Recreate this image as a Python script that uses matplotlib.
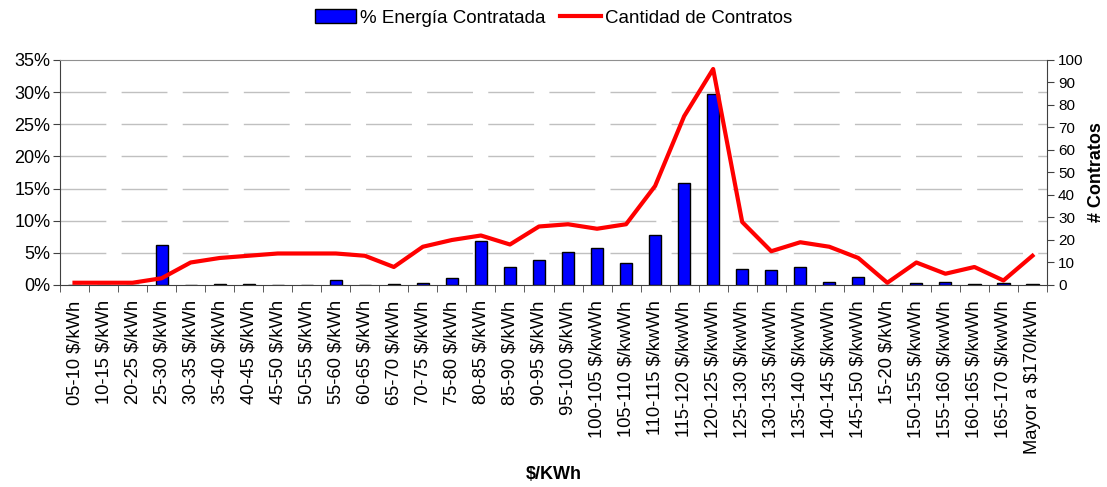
import matplotlib.pyplot as plt
import numpy as np
from matplotlib.patches import Patch
from matplotlib.lines import Line2D

plt.rcParams['font.family'] = ['Liberation Sans', 'DejaVu Sans']

# categories ($/kWh ranges) as printed on the chart
labels = [
    "05-10 $/kWh", "10-15 $/kWh", "20-25 $/kWh", "25-30 $/kWh", "30-35 $/kWh",
    "35-40 $/kWh", "40-45 $/kWh", "45-50 $/kWh", "50-55 $/kWh", "55-60 $/kWh",
    "60-65 $/kWh", "65-70 $/kWh", "70-75 $/kWh", "75-80 $/kWh", "80-85 $/kWh",
    "85-90 $/kWh", "90-95 $/kWh", "95-100 $/kWh", "100-105 $/kwWh", "105-110 $/kwWh",
    "110-115 $/kwWh", "115-120 $/kwWh", "120-125 $/kwWh", "125-130 $/kwWh",
    "130-135 $/kwWh", "135-140 $/kwWh", "140-145 $/kwWh", "145-150 $/kwWh",
    "15-20 $/kWh", "150-155 $/kwWh", "155-160 $/kwWh", "160-165 $/kwWh",
    "165-170 $/kwWh", "Mayor a $170/kWh",
]

# % energia contratada (left axis, percent)
energia = [0.0, 0.0, 0.0, 6.2, 0.05, 0.15, 0.15, 0.05, 0.05, 0.8,
           0.05, 0.15, 0.35, 1.05, 6.85, 2.85, 3.9, 5.1, 5.75, 3.45,
           7.7, 15.9, 29.7, 2.45, 2.3, 2.8, 0.4, 1.2, 0.0, 0.25,
           0.4, 0.2, 0.3, 0.1]

# cantidad de contratos (right axis)
contratos = [1, 1, 1, 3, 10, 12, 13, 14, 14, 14,
             13, 8, 17, 20, 22, 18, 26, 27, 25, 27,
             44, 75, 96, 28, 15, 19, 17, 12, 1, 10,
             5, 8, 2, 13]

x = np.arange(len(labels))

fig = plt.figure(figsize=(11.07, 4.87), dpi=100)
ax = fig.add_axes([0.0542, 0.4148, 0.8916, 0.462])

# broken-looking light grid like the original
for v in range(5, 35, 5):
    ax.axhline(v, color='#c0c0c0', lw=1, ls=(0, (33, 11)), zorder=0)

ax.bar(x, energia, width=0.42, color='#0000ff', edgecolor='black', lw=1, zorder=2)
ax.set_xlim(-0.5, len(labels) - 0.5)
ax.set_ylim(0, 35)
ax.set_yticks(range(0, 36, 5))
ax.set_yticklabels([f"{v}%" for v in range(0, 36, 5)], fontsize=13)

ax.set_xticks(x)
ax.set_xticklabels(labels, rotation=90, fontsize=13.2)
ax.set_xticks(np.arange(-0.5, len(labels), 1), minor=True)
ax.tick_params(axis='x', which='major', length=0, pad=11)
ax.tick_params(axis='x', which='minor', length=5, direction='out', color='#404040')
ax.tick_params(axis='y', length=5, direction='out', color='#404040', pad=2)
fig.text(0.5, 0.025, "$/KWh", fontsize=13, fontweight='bold', ha='center', va='center')

ax.spines['top'].set_color('#909090')
ax.spines['left'].set_color('#404040')
ax.spines['bottom'].set_color('#404040')
ax.spines['right'].set_visible(False)

ax2 = ax.twinx()
ax2.plot(x, contratos, color='#ff0000', lw=3, zorder=3)
ax2.set_ylim(0, 100)
ax2.set_yticks(range(0, 101, 10))
ax2.tick_params(axis='y', labelsize=11, length=5, direction='out', color='#404040', pad=3)
ax2.set_ylabel("# Contratos", fontsize=13, fontweight='bold', labelpad=3)
ax2.spines['right'].set_color('#404040')
ax2.spines['top'].set_visible(False)
ax2.spines['left'].set_visible(False)
ax2.spines['bottom'].set_visible(False)

handles = [Patch(facecolor='#0000ff', edgecolor='black', label='% Energía Contratada'),
           Line2D([], [], color='#ff0000', lw=3, label='Cantidad de Contratos')]
fig.legend(handles=handles, loc='center', bbox_to_anchor=(0.5, 0.963), ncol=2,
           frameon=False, fontsize=13.5, handlelength=2.2, handletextpad=0.2,
           columnspacing=0.8)

fig.savefig('out.png', dpi=100)
